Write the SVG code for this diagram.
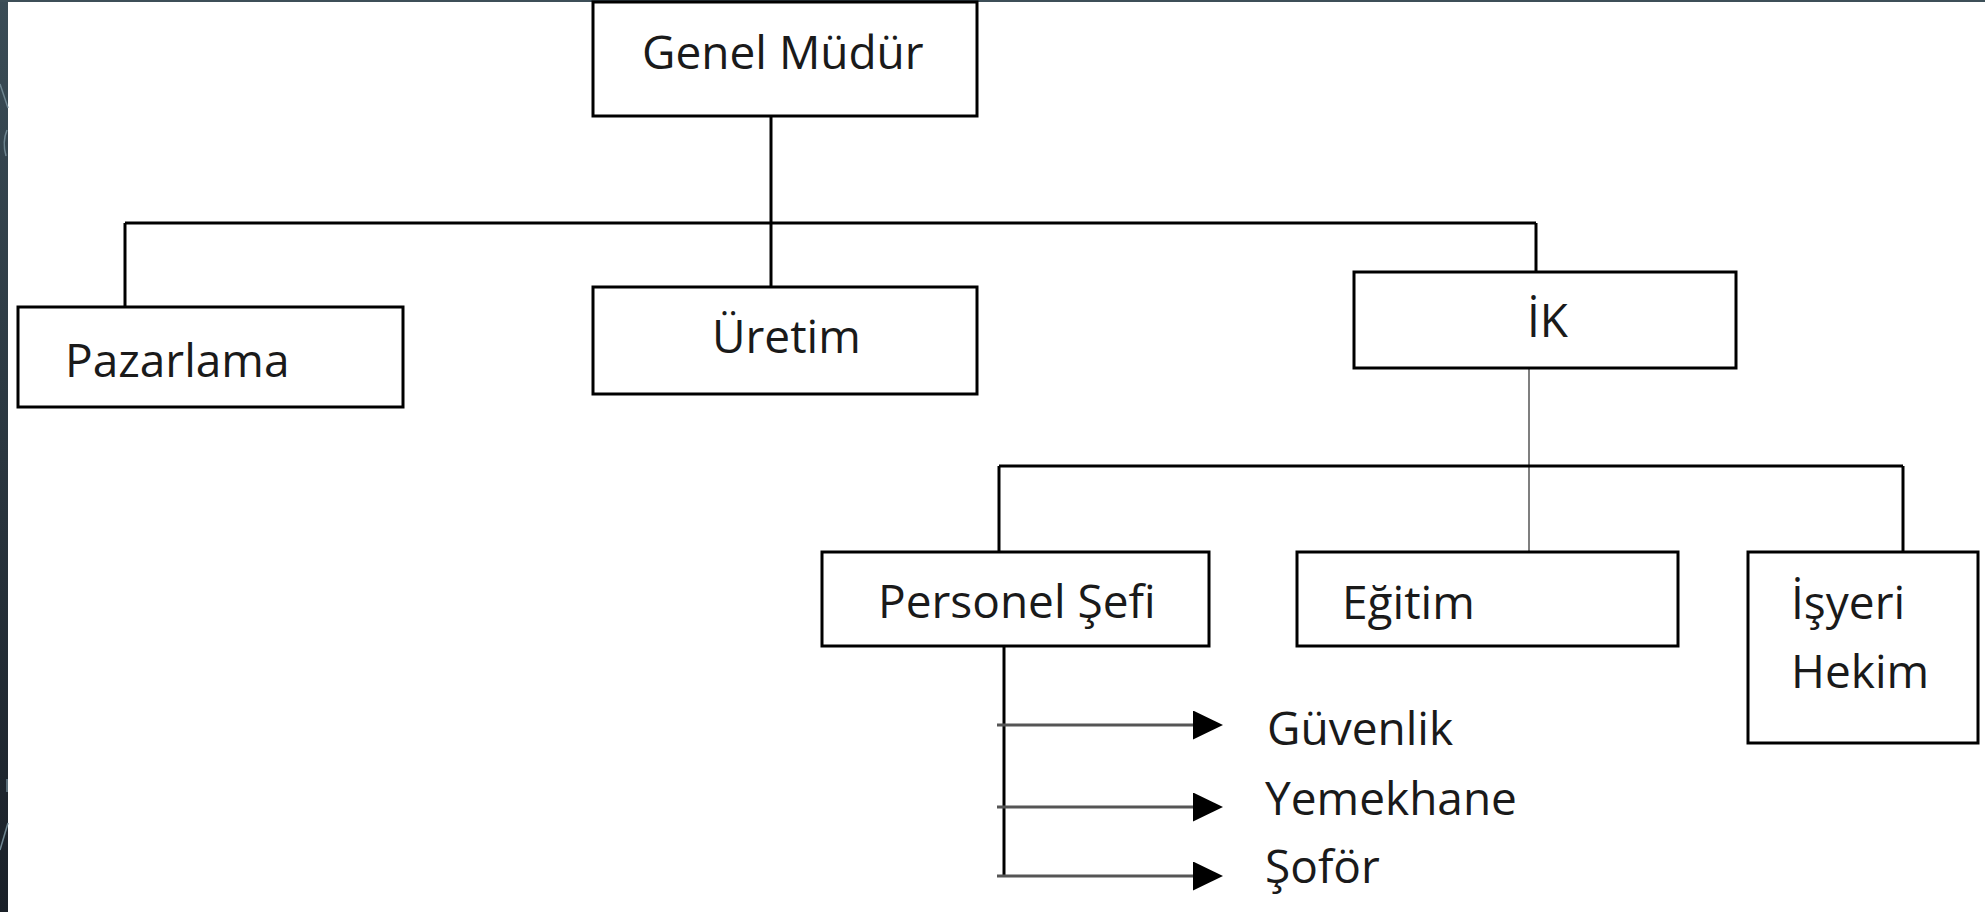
<svg xmlns="http://www.w3.org/2000/svg" width="1985" height="912" viewBox="0 0 1985 912">
  <defs>
    <linearGradient id="side" x1="0" y1="0" x2="0" y2="1">
      <stop offset="0" stop-color="#3a4c56"/>
      <stop offset="1" stop-color="#1a2028"/>
    </linearGradient>
    <marker id="arrow" markerUnits="userSpaceOnUse" markerWidth="31" markerHeight="30" refX="0" refY="14.5" orient="auto">
      <path d="M0,0 L30,14.5 L0,29 Z" fill="#000"/>
    </marker>
    <style>
      .box { fill: #fff; stroke: #000; stroke-width: 3; }
      .lbl { font-family: "Open Sans", "Liberation Sans", sans-serif; font-size: 46px; fill: #1a1a1a; }
      .conn { stroke: #000; stroke-width: 3; fill: none; }
      .thin { stroke: #7f7f7f; stroke-width: 2; fill: none; }
      .arr { stroke: #555; stroke-width: 3; fill: none; }
    </style>
  </defs>

  <rect x="0" y="0" width="1985" height="912" fill="#fff"/>
  <!-- frame -->
  <rect x="0" y="0" width="8" height="912" fill="url(#side)"/>
  <rect x="0" y="0" width="1985" height="2" fill="#3d4f58"/>
  <g stroke="#6e8590" stroke-width="1.5" fill="none">
    <path d="M0,84 L8,108"/>
    <path d="M7,130 Q2,142 6,156"/>
    <path d="M0,850 L8,823"/>
    <path d="M7,779 L7,792"/>
  </g>

  <g id="connectors">
    <line class="conn" x1="771" y1="116" x2="771" y2="287"/>
    <line class="conn" x1="125" y1="223" x2="1536" y2="223"/>
    <line class="conn" x1="125" y1="223" x2="125" y2="307"/>
    <line class="conn" x1="1536" y1="223" x2="1536" y2="272"/>
    <line class="thin" x1="1529" y1="368" x2="1529" y2="552"/>
    <line class="conn" x1="999" y1="466" x2="1903" y2="466"/>
    <line class="conn" x1="999" y1="466" x2="999" y2="552"/>
    <line class="conn" x1="1903" y1="466" x2="1903" y2="552"/>
    <line class="conn" x1="1004" y1="646" x2="1004" y2="877"/>
    <line class="arr" x1="997" y1="725" x2="1193" y2="725" marker-end="url(#arrow)"/>
    <line class="arr" x1="997" y1="807" x2="1193" y2="807" marker-end="url(#arrow)"/>
    <line class="arr" x1="997" y1="876" x2="1193" y2="876" marker-end="url(#arrow)"/>
  </g>

  <g id="genel-mudur">
    <rect class="box" x="593" y="2" width="384" height="114"/>
    <text class="lbl" x="642" y="69">Genel Müdür</text>
  </g>
  <g id="pazarlama">
    <rect class="box" x="18" y="307" width="385" height="100"/>
    <text class="lbl" x="65" y="377">Pazarlama</text>
  </g>
  <g id="uretim">
    <rect class="box" x="593" y="287" width="384" height="107"/>
    <text class="lbl" x="712" y="353">Üretim</text>
  </g>
  <g id="ik">
    <rect class="box" x="1354" y="272" width="382" height="96"/>
    <text class="lbl" x="1527" y="337">İK</text>
  </g>
  <g id="personel-sefi">
    <rect class="box" x="822" y="552" width="387" height="94"/>
    <text class="lbl" x="878" y="618">Personel Şefi</text>
  </g>
  <g id="egitim">
    <rect class="box" x="1297" y="552" width="381" height="94"/>
    <text class="lbl" x="1342" y="619">Eğitim</text>
  </g>
  <g id="isyeri-hekim">
    <rect class="box" x="1748" y="552" width="230" height="191"/>
    <text class="lbl" x="1791" y="619">İşyeri</text>
    <text class="lbl" x="1791" y="688">Hekim</text>
  </g>
  <g id="guvenlik">
    <text class="lbl" x="1267" y="745">Güvenlik</text>
  </g>
  <g id="yemekhane">
    <text class="lbl" x="1265" y="815">Yemekhane</text>
  </g>
  <g id="sofor">
    <text class="lbl" x="1265" y="883">Şoför</text>
  </g>
</svg>
